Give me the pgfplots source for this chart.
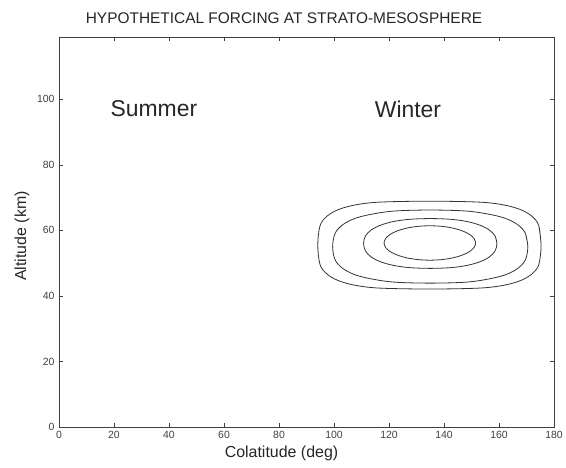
\documentclass[border=0pt]{standalone}
\usepackage{pgfplots}
\pgfplotsset{compat=1.18}
\usepackage{fontspec}
\setmainfont{Liberation Sans}
\begin{document}
\begin{tikzpicture}
\begin{axis}[
  at={(0,0)}, anchor=south west,
  scale only axis,
  width=495bp, height=390bp,
  xmin=0, xmax=180, ymin=0, ymax=119,
  xtick={0,20,40,60,80,100,120,140,160,180},
  ytick={0,20,40,60,80,100},
  tick align=inside,
  xtick pos=both, ytick pos=both,
  major tick length=4bp,
  axis line style={black!75, line width=0.8bp},
  every tick/.style={black!75, line width=0.6bp},
  tick label style={font=\fontsize{10.5}{12}\selectfont, text=black!75},
  /pgf/number format/assume math mode=true,
  xticklabel style={yshift=-1bp},
  yticklabel style={xshift=-1bp},
  clip=false,
]
% outer contour
\addplot[black!80, line width=0.8bp, smooth, tension=0.55] coordinates {
(175.3,55.5) (174.46,61.46) (171.94,64.34) (167.68,66.38) (161.49,67.79) (152.74,68.62) (134.7,68.9)
(116.66,68.62) (107.91,67.79) (101.72,66.38) (97.46,64.34) (94.94,61.46) (94.1,55.5)
(94.94,49.54) (97.46,46.66) (101.72,44.62) (107.91,43.21) (116.66,42.38) (134.7,42.1)
(152.74,42.38) (161.49,43.21) (167.68,44.62) (171.94,46.66) (174.46,49.54) (175.3,55.5) (174.46,61.46)
};
% second contour
\addplot[black!80, line width=0.8bp, smooth, tension=0.55] coordinates {
(170.5,55.05) (169.59,59.10) (166.87,61.68) (162.37,63.65) (156.11,64.96) (147.88,65.91) (135,66.2)
(122.12,65.91) (113.89,64.96) (107.63,63.65) (103.13,61.68) (100.41,59.10) (99.5,55.05)
(100.41,51.0) (103.13,48.42) (107.63,46.45) (113.89,45.14) (122.12,44.19) (135,43.9)
(147.88,44.19) (156.11,45.14) (162.37,46.45) (166.87,48.42) (169.59,51.0) (170.5,55.05) (169.59,59.10)
};
% third contour
\addplot[black!80, line width=0.8bp, smooth, tension=0.55] coordinates {
(159.25,56) (158.53,58.34) (156.4,60.16) (152.94,61.62) (148.27,62.71) (142.48,63.37) (135,63.6)
(127.52,63.37) (121.73,62.71) (117.06,61.62) (113.6,60.16) (111.47,58.34) (110.75,56)
(111.47,53.66) (113.6,51.84) (117.06,50.38) (121.73,49.29) (127.52,48.63) (135,48.4)
(142.48,48.63) (148.27,49.29) (152.94,50.38) (156.4,51.84) (158.53,53.66) (159.25,56) (158.53,58.34)
};
% inner contour
\addplot[black!80, line width=0.8bp, smooth, tension=0.55] coordinates {
(151.5,56.15) (150.93,57.51) (149.27,58.78) (146.62,59.86) (143.18,60.7) (139.16,61.22) (134.85,61.4)
(130.54,61.22) (126.52,60.7) (123.08,59.86) (120.43,58.78) (118.77,57.51) (118.2,56.15)
(118.77,54.79) (120.43,53.52) (123.08,52.44) (126.52,51.6) (130.54,51.08) (134.85,50.9)
(139.16,51.08) (143.18,51.6) (146.62,52.44) (149.27,53.52) (150.93,54.79) (151.5,56.15) (150.93,57.51)
};
\node[font=\fontsize{23}{27}\selectfont, text=black!85] at (axis cs:34.5,97) {Summer};
\node[font=\fontsize{23}{27}\selectfont, text=black!85] at (axis cs:126.9,97) {Winter};
\end{axis}
\node[font=\fontsize{15.5}{18}\selectfont, text=black!85] at (225bp,409bp) {HYPOTHETICAL FORCING AT STRATO-MESOSPHERE};
\node[font=\fontsize{16}{19}\selectfont, text=black!85] at (222.5bp,-26bp) {Colatitude (deg)};
\node[font=\fontsize{16}{19}\selectfont, text=black!85, rotate=90] at (-37bp,191bp) {Altitude (km)};
\pgfresetboundingbox
\path (-59bp,-41bp) rectangle (507bp,427bp);
\end{tikzpicture}
\end{document}
